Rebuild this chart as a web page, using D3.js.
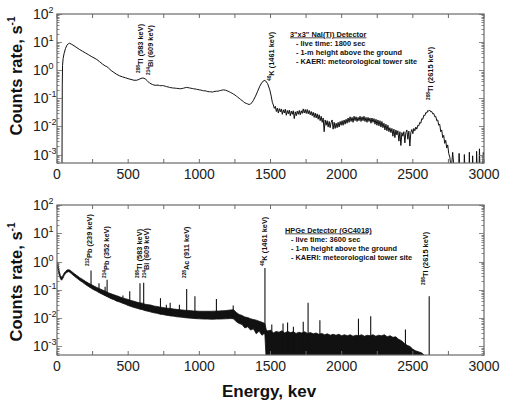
<!DOCTYPE html>
<html><head><meta charset="utf-8">
<script src="https://cdn.jsdelivr.net/npm/d3@7/dist/d3.min.js"></script>
<style>
body{margin:0;background:#fff}
svg{display:block;font-family:Arial,"Liberation Sans",sans-serif}
</style>
</head><body>
<svg id="chart" width="510" height="408"></svg>
<script>
// ---------------- DATA ----------------
const energyTicks = [0, 500, 1000, 1500, 2000, 2500, 3000];
const energyMinorTicks = [250, 750, 1250, 1750, 2250, 2750];
const decadeExponents = [-3, -2, -1, 0, 1, 2];

// NaI(Tl) spectrum: [energy keV, counts rate s^-1]
const naiSpectrum = [
[35,0.0003],[37,0.3],[39,1.5],[43,2.6],[50,4.0],[60,6.0],[70,7.8],[80,8.8],[88,9.1],[100,8.5],
[120,7.4],[140,6.3],[160,5.4],[180,4.7],[200,4.1],[220,3.6],[240,3.1],[260,2.75],[280,2.4],[300,2.0],
[320,1.65],[340,1.4],[350,1.35],[360,1.22],[380,0.98],[400,0.83],[420,0.71],[440,0.63],[460,0.58],[480,0.54],
[500,0.5],[520,0.47],[540,0.44],[560,0.44],[575,0.47],[590,0.51],[605,0.53],[620,0.49],[635,0.42],[650,0.35],
[670,0.31],[690,0.29],[710,0.295],[720,0.285],[730,0.28],[740,0.285],[750,0.28],[760,0.27],[770,0.26],[780,0.255],[790,0.245],[800,0.24],[810,0.235],[820,0.232],[830,0.23],[840,0.226],[850,0.225],
[860,0.22],[870,0.22],[880,0.224],[890,0.23],[900,0.238],[910,0.245],[920,0.24],[930,0.235],[940,0.228],[950,0.225],[960,0.218],[970,0.215],[980,0.21],[990,0.205],[1000,0.2],[1010,0.197],[1020,0.19],[1030,0.185],[1040,0.186],[1050,0.18],
[1060,0.174],[1070,0.171],[1080,0.172],[1090,0.166],[1100,0.172],[1110,0.176],[1120,0.18],[1130,0.178],[1140,0.186],[1150,0.19],[1160,0.196],[1170,0.2],[1185,0.194],[1200,0.18],[1210,0.172],[1220,0.16],[1230,0.152],[1240,0.14],
[1250,0.132],[1260,0.12],[1270,0.11],[1280,0.1],[1290,0.091],[1300,0.083],[1310,0.076],[1320,0.069],[1330,0.066],[1340,0.063],[1350,0.06],[1360,0.064],[1370,0.07],[1380,0.085],
[1395,0.12],[1410,0.18],[1425,0.27],[1440,0.37],[1455,0.43],[1465,0.42],[1480,0.33],[1495,0.2],[1505,0.12],[1513,0.072],
[1520,0.058],[1527,0.044],[1534,0.052],[1541,0.034],[1548,0.045],[1555,0.03],[1562,0.043],[1569,0.033],[1576,0.042],[1583,0.027],
[1590,0.039],[1597,0.03],[1604,0.041],[1611,0.025],[1618,0.037],[1625,0.028],[1632,0.038],[1639,0.024],[1646,0.035],[1653,0.027],
[1660,0.036],[1667,0.019],[1674,0.033],[1681,0.024],[1688,0.035],[1695,0.027],[1702,0.037],[1709,0.026],[1716,0.036],[1723,0.029],
[1730,0.042],[1737,0.03],[1744,0.04],[1751,0.029],[1758,0.04],[1765,0.028],[1772,0.037],[1779,0.026],[1786,0.034],[1793,0.024],
[1800,0.032],[1807,0.021],[1814,0.03],[1821,0.02],[1828,0.028],[1835,0.018],[1842,0.026],[1849,0.016],[1856,0.023],[1863,0.014],
[1870,0.02],[1877,0.0065],[1884,0.017],[1891,0.011],[1898,0.016],[1905,0.0095],[1912,0.015],[1919,0.009],[1926,0.014],[1933,0.017],
[1940,0.008],[1947,0.014],[1954,0.0085],[1961,0.013],[1968,0.009],[1975,0.014],[1982,0.0095],[1989,0.015],[1996,0.011],[2003,0.016],
[2010,0.011],[2017,0.017],[2024,0.012],[2031,0.018],[2038,0.013],[2045,0.02],[2052,0.014],[2059,0.022],[2066,0.015],[2073,0.021],
[2080,0.014],[2087,0.023],[2094,0.016],[2101,0.022],[2108,0.015],[2115,0.021],[2122,0.016],[2129,0.023],[2136,0.015],[2143,0.022],
[2150,0.016],[2157,0.023],[2164,0.015],[2171,0.021],[2178,0.014],[2185,0.021],[2192,0.015],[2199,0.02],[2206,0.013],[2213,0.02],
[2220,0.014],[2227,0.019],[2234,0.012],[2241,0.018],[2248,0.011],[2255,0.017],[2262,0.0105],[2269,0.016],[2276,0.0095],[2283,0.015],
[2290,0.009],[2297,0.013],[2304,0.0075],[2311,0.012],[2318,0.007],[2325,0.011],[2332,0.0065],[2339,0.009],[2346,0.006],[2353,0.0085],
[2360,0.0045],[2367,0.008],[2374,0.004],[2381,0.0075],[2388,0.005],[2395,0.007],[2402,0.003],[2409,0.0065],[2416,0.0021],[2423,0.006],
[2430,0.0045],[2437,0.0065],[2444,0.0026],[2451,0.006],[2458,0.0075],[2465,0.0035],[2472,0.0068],[2479,0.002],[2486,0.0062],[2493,0.0078],
[2500,0.0055],[2507,0.0085],[2514,0.007],[2521,0.0095],[2528,0.008],[2535,0.011],[2542,0.0105],[2549,0.014],[2556,0.013],[2563,0.019],
[2570,0.018],[2577,0.025],[2584,0.024],[2591,0.031],[2598,0.03],[2605,0.037],[2612,0.035],[2619,0.038],[2626,0.033],[2633,0.034],
[2640,0.028],[2647,0.029],[2654,0.022],[2661,0.023],[2668,0.016],[2675,0.017],[2682,0.011],[2689,0.012],[2696,0.0065],[2703,0.0075],
[2710,0.004],[2717,0.0048],[2724,0.0025],[2731,0.0032],[2738,0.0017],[2745,0.0022],[2752,0.0011],[2760,0.0008],
[2770,0.0003],[2780,0.0012],[2790,0.0003],[2822,0.0003],[2825,0.0011],[2830,0.0003],
[2860,0.0003],[2862,0.001],[2866,0.0003],[2895,0.0003],[2897,0.0012],[2900,0.0003],[2918,0.0003],[2920,0.0009],[2924,0.0003],[2946,0.0003],
[2948,0.0013],[2952,0.0003],[2965,0.0003],[2968,0.0016],[2972,0.0003],[2990,0.0003],[2995,0.0012],[3000,0.0008]
];

// HPGe continuum band: [energy keV, lower edge, upper edge]
const hpgeBand = [
[0,0.65,1.0],[8,0.5,0.75],[16,0.33,0.45],[24,0.25,0.32],[32,0.22,0.28],[40,0.25,0.31],[50,0.32,0.39],[60,0.38,0.45],
[70,0.42,0.5],[80,0.44,0.52],[90,0.42,0.5],[100,0.38,0.46],[120,0.31,0.38],[140,0.26,0.32],[160,0.215,0.27],[180,0.185,0.235],
[200,0.155,0.2],[220,0.133,0.175],[240,0.115,0.155],[260,0.1,0.137],[280,0.089,0.122],[300,0.078,0.11],[320,0.069,0.099],[340,0.062,0.09],
[360,0.055,0.08],[380,0.049,0.073],[400,0.045,0.067],[420,0.04,0.062],[440,0.037,0.057],[460,0.034,0.052],[480,0.031,0.049],[500,0.028,0.046],
[520,0.026,0.042],[540,0.024,0.04],[560,0.0225,0.037],[580,0.021,0.035],[600,0.02,0.034],[620,0.0185,0.031],[640,0.0175,0.03],[660,0.0165,0.029],
[680,0.0155,0.027],[700,0.015,0.026],[720,0.014,0.025],[740,0.0135,0.024],[760,0.013,0.023],[780,0.0125,0.0225],[800,0.012,0.022],[820,0.0118,0.021],
[840,0.0112,0.0205],[860,0.011,0.02],[880,0.0107,0.0195],[900,0.0104,0.019],[920,0.0102,0.0188],[940,0.01,0.0185],[960,0.0098,0.018],[980,0.0096,0.0178],
[1000,0.0095,0.0176],[1020,0.0094,0.0175],[1040,0.0093,0.0175],[1060,0.0093,0.0176],[1080,0.0092,0.0175],[1100,0.0092,0.0177],[1120,0.0093,0.0178],[1140,0.0093,0.018],
[1160,0.0094,0.0182],[1180,0.0095,0.0185],[1200,0.0096,0.019],[1220,0.0097,0.0195],[1240,0.0095,0.02],[1260,0.0075,0.016],[1280,0.0065,0.0135],[1300,0.006,0.0125],
[1320,0.0045,0.011],[1340,0.005,0.0105],[1360,0.0038,0.0095],[1380,0.0042,0.009],[1400,0.0028,0.0085],[1420,0.0035,0.0078],[1440,0.0025,0.0072],[1460,0.003,0.0065],
[1470,0.0003,0.004],[1480,0.0003,0.0035],[1500,0.0003,0.0038],[1520,0.0003,0.003],[1540,0.0003,0.0034],[1560,0.0003,0.0032],[1580,0.0003,0.0036],[1600,0.0003,0.003],
[1620,0.0003,0.0034],[1640,0.0003,0.0031],[1660,0.0003,0.0033],[1680,0.0003,0.0029],[1700,0.0003,0.0032],[1720,0.0003,0.003],[1740,0.0003,0.0033],[1760,0.0003,0.0029],
[1780,0.0003,0.0031],[1800,0.0003,0.0028],[1820,0.0003,0.003],[1840,0.0003,0.0027],[1860,0.0003,0.0029],[1880,0.0003,0.0026],[1900,0.0003,0.0028],[1920,0.0003,0.0025],
[1940,0.0003,0.0027],[1960,0.0003,0.0025],[1980,0.0003,0.0027],[2000,0.0003,0.0024],[2020,0.0003,0.0026],[2040,0.0003,0.0024],[2060,0.0003,0.0026],[2080,0.0003,0.0023],
[2100,0.0003,0.0025],[2120,0.0003,0.0024],[2140,0.0003,0.0026],[2160,0.0003,0.0023],[2180,0.0003,0.0025],[2200,0.0003,0.0024],[2220,0.0003,0.0026],[2240,0.0003,0.0023],
[2260,0.0003,0.0025],[2280,0.0003,0.0024],[2300,0.0003,0.0026],[2320,0.0003,0.0022],[2340,0.0003,0.0024],[2360,0.0003,0.0021],[2380,0.0003,0.0022],[2400,0.0003,0.0018],
[2420,0.0003,0.0016],[2440,0.0003,0.0013],[2460,0.0003,0.0011],[2480,0.0003,0.001],[2500,0.0003,0.0008],[2520,0.0003,0.0007],[2540,0.0003,0.00065],[2560,0.0003,0.0006],
[2580,0.0003,0.0005]
];

// HPGe full-energy peaks
const hpgePeakE = [239, 295, 338, 352, 463, 511, 583, 609, 727, 768, 795, 860, 911, 969, 1120, 1238, 1461, 1509, 1588, 1620, 1661, 1730, 1764, 1847, 2118, 2204, 2448, 2615];
const hpgePeakV = [0.48, 0.17, 0.13, 0.23, 0.063, 0.089, 0.17, 0.18, 0.051, 0.03, 0.035, 0.03, 0.107, 0.059, 0.048, 0.028, 0.59, 0.006, 0.0065, 0.007, 0.005, 0.0075, 0.035, 0.0085, 0.0096, 0.0117, 0.004, 0.059];

// Annotation texts: [mass number, rest]
const naiNuclides = [["208","Tl (583 keV)"],["214","Bi (609 keV)"],["40","K (1461 keV)"],["208","Tl (2615 keV)"]];
const hpgeNuclides = [["212","Pb (239 keV)"],["214","Pb (352 keV)"],["208","Tl (583 keV)"],["214","Bi (609 keV)"],["228","Ac (911 keV)"],["40","K (1461 keV)"],["208","Tl (2615 keV)"]];
const naiLegend = ["3\"x3\" NaI(Tl) Detector","- live time: 1800 sec","- 1-m height above the ground","- KAERI: meteorological tower site"];
const hpgeLegend = ["HPGe Detector (GC4018)","- live time: 3600 sec","- 1-m height above the ground","- KAERI: meteorological tower site"];
const yTitle = "Counts rate, s";
const xTitle = "Energy, kev";

// ---------------- LAYOUT ----------------
const svg = d3.select("#chart");
const L = 57, R = 484;
const panels = [
  {id:"nai", top:14, bottom:163, titleY:76},
  {id:"hpge", top:205, bottom:355, titleY:282}
];
const x = d3.scaleLinear().domain([0, 3000]).range([L, R]);
const yDomain = [5e-4, 100];

function drawFrame(g, y, p) {
  const axisCol = "#6a6a6a";
  const allX = energyTicks.concat(energyMinorTicks);
  allX.forEach(e => {
    const xx = x(e);
    g.append("line").attr("x1",xx).attr("x2",xx).attr("y1",p.bottom).attr("y2",p.bottom-4).attr("stroke",axisCol);
    g.append("line").attr("x1",xx).attr("x2",xx).attr("y1",p.top).attr("y2",p.top+4).attr("stroke",axisCol);
  });
  for (let d = -4; d <= 2; d++) {
    for (let m = 1; m <= 9; m++) {
      const v = m * Math.pow(10, d);
      if (v < yDomain[0] || v > yDomain[1]) continue;
      const yy = Math.round(y(v)) + 0.5;
      const len = m === 1 ? 5 : 2.5;
      g.append("line").attr("x1",L).attr("x2",L+len).attr("y1",yy).attr("y2",yy).attr("stroke",axisCol).attr("stroke-width",0.8);
      g.append("line").attr("x1",R).attr("x2",R-len).attr("y1",yy).attr("y2",yy).attr("stroke",axisCol).attr("stroke-width",0.8);
    }
  }
  g.append("rect").attr("x",L).attr("y",p.top).attr("width",R-L).attr("height",p.bottom-p.top)
    .attr("fill","none").attr("stroke",axisCol).attr("stroke-width",1.2);
  energyTicks.forEach(e => {
    g.append("text").attr("x",x(e)).attr("y",p.bottom+16).attr("text-anchor","middle")
      .attr("font-size",14).attr("fill","#222").text(e);
  });
  decadeExponents.forEach(ex => {
    const t = g.append("text").attr("x",33).attr("y",y(Math.pow(10,ex))+5).attr("font-size",14).attr("fill","#222");
    t.append("tspan").text("10");
    t.append("tspan").attr("dy",-6).attr("font-size",9).text(ex);
  });
  const yt = g.append("text").attr("transform",`translate(22,${p.titleY}) rotate(-90)`)
    .attr("text-anchor","middle").attr("font-size",16.5).attr("font-weight","bold").attr("fill","#111");
  yt.append("tspan").text(yTitle);
  yt.append("tspan").attr("dy",-7).attr("font-size",10).text("-1");
}

function drawNuclide(g, item, bx, sy) {
  const t = g.append("text").attr("transform",`translate(${bx},${sy}) rotate(-90)`)
    .attr("font-size",7.4).attr("font-weight","bold").attr("fill","#111");
  t.append("tspan").attr("font-size",4.8).attr("dy",-3).text(item[0]);
  t.append("tspan").attr("dy",3).text(item[1]);
}

function drawLegend(g, lines, tx, lx, y0) {
  lines.forEach((s, i) => {
    const t = g.append("text").attr("x", i === 0 ? tx : lx).attr("y", y0 + i*9.3)
      .attr("font-size",7.4).attr("font-weight","bold").attr("fill","#111").text(s);
    if (i === 0) t.attr("text-decoration","underline");
  });
}

// ---- Panel 1: NaI ----
(function(){
  const p = panels[0];
  const y = d3.scaleLog().domain(yDomain).range([p.bottom, p.top]);
  const g = svg.append("g");
  svg.append("clipPath").attr("id","clipNai").append("rect").attr("x",L).attr("y",p.top).attr("width",R-L).attr("height",p.bottom-p.top);
  const line = d3.line().x(d => x(d[0])).y(d => y(d[1]));
  g.append("path").datum(naiSpectrum).attr("clip-path","url(#clipNai)")
    .attr("d",line).attr("fill","none").attr("stroke","#111").attr("stroke-width",1).attr("stroke-linejoin","round");
  drawFrame(g, y, p);
  const pos = [[143,73],[153,75],[274,81],[433,100]];
  naiNuclides.forEach((n,i) => drawNuclide(g, n, pos[i][0], pos[i][1]));
  drawLegend(g, naiLegend, 290, 296, 36.5);
})();

// ---- Panel 2: HPGe ----
(function(){
  const p = panels[1];
  const y = d3.scaleLog().domain(yDomain).range([p.bottom, p.top]);
  const g = svg.append("g");
  svg.append("clipPath").attr("id","clipHp").append("rect").attr("x",L).attr("y",p.top).attr("width",R-L).attr("height",p.bottom-p.top);
  const area = d3.area().x(d => x(d[0])).y0(d => y(d[1])).y1(d => y(d[2]));
  const cg = g.append("g").attr("clip-path","url(#clipHp)");
  cg.append("path").datum(hpgeBand).attr("d",area).attr("fill","#111").attr("stroke","#111").attr("stroke-width",0.8);
  const bis = d3.bisector(d => d[0]).left;
  function loAt(e) {
    const i = Math.min(Math.max(bis(hpgeBand, e), 1), hpgeBand.length-1);
    const a = hpgeBand[i-1], b = hpgeBand[i];
    const t = (e - a[0]) / (b[0] - a[0]);
    return a[1] + (b[1]-a[1]) * Math.max(0, Math.min(1, t));
  }
  hpgePeakE.forEach((e,i) => {
    cg.append("line").attr("x1",x(e)).attr("x2",x(e))
      .attr("y1",y(hpgePeakV[i])).attr("y2",Math.min(p.bottom, y(Math.max(loAt(e),3e-4))))
      .attr("stroke","#111").attr("stroke-width",1.1);
  });
  drawFrame(g, y, p);
  const pos = [[92,266],[109,278],[142,278],[149,278],[189,278],[267,266],[428,285]];
  hpgeNuclides.forEach((n,i) => drawNuclide(g, n, pos[i][0], pos[i][1]));
  drawLegend(g, hpgeLegend, 285, 291, 232.5);
  svg.append("text").attr("x",269).attr("y",397).attr("text-anchor","middle")
    .attr("font-size",17).attr("font-weight","bold").attr("fill","#111").text(xTitle);
})();
</script>
</body></html>
